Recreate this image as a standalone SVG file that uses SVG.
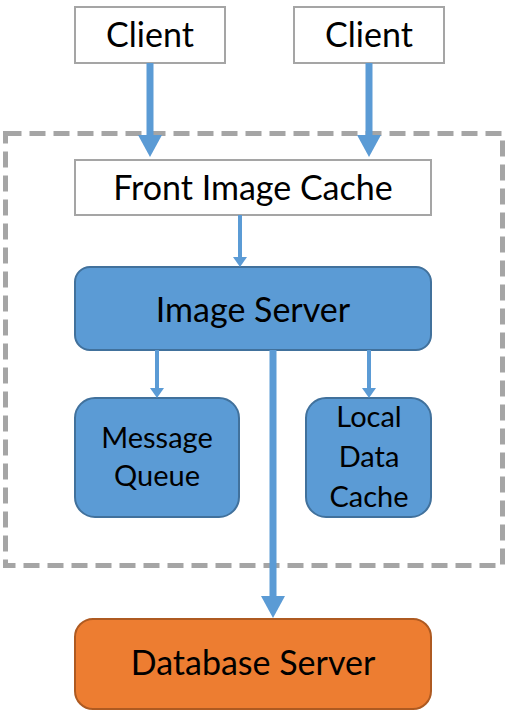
<svg xmlns="http://www.w3.org/2000/svg" width="507" height="711" viewBox="0 0 507 711">
<style>
.white{fill:#FFFFFF;stroke:#A5A5A5;stroke-width:2}
.blue{fill:#5B9BD5;stroke:#41719C;stroke-width:2}
.orange{fill:#ED7D31;stroke:#AE5A21;stroke-width:2}
.t{font-family:Lato,"Liberation Sans",sans-serif;fill:#000;text-anchor:middle}
.big{font-size:34px}
.small{font-size:29px}
.thick{stroke:#5B9BD5;stroke-width:7;fill:none}
.thin{stroke:#5B9BD5;stroke-width:4;fill:none}
.group{fill:none;stroke:#A5A5A5;stroke-width:5;stroke-dasharray:16 8}
</style>
<defs>
<marker id="hb" markerUnits="userSpaceOnUse" markerWidth="24" markerHeight="26" refX="0" refY="12" orient="auto" viewBox="0 0 24 24">
<path d="M0,0 L22,12 L0,24 z" fill="#5B9BD5"/>
</marker>
<marker id="hs" markerUnits="userSpaceOnUse" markerWidth="12" markerHeight="14" refX="0" refY="7" orient="auto" viewBox="0 0 12 14">
<path d="M0,0 L10,7 L0,14 z" fill="#5B9BD5"/>
</marker>
</defs>
<rect id="boundary" class="group" x="5.5" y="133.5" width="497" height="432"/>
<g id="client1"><rect class="white" x="75" y="7" width="150" height="56"/><text class="t big" x="150" y="47">Client</text></g>
<g id="client2"><rect class="white" x="294" y="7" width="150" height="56"/><text class="t big" x="369" y="47">Client</text></g>
<g id="front-cache"><rect class="white" x="75" y="160" width="356" height="55"/><text class="t big" x="253" y="200">Front Image Cache</text></g>
<g id="image-server"><rect class="blue" x="75" y="267" width="356" height="83" rx="15"/><text class="t big" x="253" y="322">Image Server</text></g>
<g id="message-queue"><rect class="blue" x="75" y="398" width="164" height="119" rx="20"/><text class="t small" x="157" y="448">Message</text><text class="t small" x="157" y="486">Queue</text></g>
<g id="local-cache"><rect class="blue" x="306" y="398" width="125" height="119" rx="20"/><text class="t small" x="369" y="427">Local</text><text class="t small" x="369" y="467">Data</text><text class="t small" x="369" y="507">Cache</text></g>
<g id="database"><rect class="orange" x="75" y="619" width="356" height="90" rx="18"/><text class="t big" x="253" y="675">Database Server</text></g>
<g id="connectors">
<path class="thick" d="M150,63 V135" marker-end="url(#hb)"/>
<path class="thick" d="M369,63 V135" marker-end="url(#hb)"/>
<path class="thin" d="M240,215 V257" marker-end="url(#hs)"/>
<path class="thin" d="M157,350 V388" marker-end="url(#hs)"/>
<path class="thin" d="M369,350 V388" marker-end="url(#hs)"/>
<path class="thick" d="M273,350 V596" marker-end="url(#hb)"/>
</g>
</svg>
